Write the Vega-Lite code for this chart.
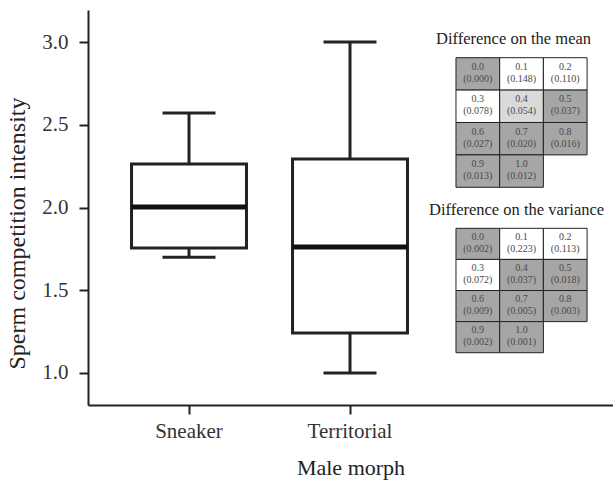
{
  "$schema": "https://vega.github.io/schema/vega-lite/v6.json",
  "width": 525,
  "height": 395,
  "autosize": {"type": "none"},
  "padding": {"left": 88, "top": 10, "right": 0, "bottom": 76},
  "background": "white",
  "config": {
    "view": {"stroke": null},
    "font": "Liberation Serif",
    "axis": {
      "grid": false,
      "domainColor": "#222222",
      "domainWidth": 2,
      "tickColor": "#222222",
      "tickWidth": 2,
      "tickSize": 9,
      "labelFont": "Liberation Serif",
      "labelFontSize": 21,
      "labelColor": "#333333",
      "titleFont": "Liberation Serif",
      "titleFontSize": 22,
      "titleFontWeight": "normal",
      "titleColor": "#222222"
    }
  },
  "datasets": {
    "boxes": [
      {"morph": "Sneaker", "lower": 1.70, "q1": 1.755, "median": 2.003, "q3": 2.263, "upper": 2.571},
      {"morph": "Territorial", "lower": 1.0, "q1": 1.242, "median": 1.761, "q3": 2.293, "upper": 3.0}
    ],
    "cells": [
      {"table": "mean", "row": 0, "col": 0, "v": "0.0", "p": "(0.000)", "level": "sig"},
      {"table": "mean", "row": 0, "col": 1, "v": "0.1", "p": "(0.148)", "level": "ns"},
      {"table": "mean", "row": 0, "col": 2, "v": "0.2", "p": "(0.110)", "level": "ns"},
      {"table": "mean", "row": 1, "col": 0, "v": "0.3", "p": "(0.078)", "level": "ns"},
      {"table": "mean", "row": 1, "col": 1, "v": "0.4", "p": "(0.054)", "level": "marg"},
      {"table": "mean", "row": 1, "col": 2, "v": "0.5", "p": "(0.037)", "level": "sig"},
      {"table": "mean", "row": 2, "col": 0, "v": "0.6", "p": "(0.027)", "level": "sig"},
      {"table": "mean", "row": 2, "col": 1, "v": "0.7", "p": "(0.020)", "level": "sig"},
      {"table": "mean", "row": 2, "col": 2, "v": "0.8", "p": "(0.016)", "level": "sig"},
      {"table": "mean", "row": 3, "col": 0, "v": "0.9", "p": "(0.013)", "level": "sig"},
      {"table": "mean", "row": 3, "col": 1, "v": "1.0", "p": "(0.012)", "level": "sig"},
      {"table": "variance", "row": 0, "col": 0, "v": "0.0", "p": "(0.002)", "level": "sig"},
      {"table": "variance", "row": 0, "col": 1, "v": "0.1", "p": "(0.223)", "level": "ns"},
      {"table": "variance", "row": 0, "col": 2, "v": "0.2", "p": "(0.113)", "level": "ns"},
      {"table": "variance", "row": 1, "col": 0, "v": "0.3", "p": "(0.072)", "level": "ns"},
      {"table": "variance", "row": 1, "col": 1, "v": "0.4", "p": "(0.037)", "level": "sig"},
      {"table": "variance", "row": 1, "col": 2, "v": "0.5", "p": "(0.018)", "level": "sig"},
      {"table": "variance", "row": 2, "col": 0, "v": "0.6", "p": "(0.009)", "level": "sig"},
      {"table": "variance", "row": 2, "col": 1, "v": "0.7", "p": "(0.005)", "level": "sig"},
      {"table": "variance", "row": 2, "col": 2, "v": "0.8", "p": "(0.003)", "level": "sig"},
      {"table": "variance", "row": 3, "col": 0, "v": "0.9", "p": "(0.002)", "level": "sig"},
      {"table": "variance", "row": 3, "col": 1, "v": "1.0", "p": "(0.001)", "level": "sig"}
    ],
    "titles": [
      {"table": "mean", "row": -1, "col": 1, "label": "Difference on the mean"},
      {"table": "variance", "row": -1, "col": 1, "label": "Difference on the variance"}
    ]
  },
  "layer": [
    {
      "data": {"name": "boxes"},
      "encoding": {
        "x": {
          "field": "morph",
          "type": "nominal",
          "scale": {"type": "band", "domain": ["Sneaker", "Territorial"], "paddingInner": 0, "paddingOuter": 0.6304, "align": 0.101},
          "axis": {"title": "Male morph", "labelAngle": 0, "labelPadding": 6, "titlePadding": 16}
        }
      },
      "layer": [
        {
          "mark": {"type": "rule", "color": "#222222", "strokeWidth": 3},
          "encoding": {
            "y": {
              "field": "lower",
              "type": "quantitative",
              "scale": {"domain": [0.8066, 3.1934], "nice": false, "zero": false},
              "axis": {"title": "Sperm competition intensity", "titleFontSize": 24, "titleY": 223, "values": [1, 1.5, 2, 2.5, 3], "format": ".1f", "labelPadding": 11, "titlePadding": 12}
            },
            "y2": {"field": "q1"}
          }
        },
        {
          "mark": {"type": "rule", "color": "#222222", "strokeWidth": 3},
          "encoding": {
            "y": {"field": "q3", "type": "quantitative"},
            "y2": {"field": "upper"}
          }
        },
        {
          "mark": {"type": "bar", "fill": "white", "stroke": "#222222", "strokeWidth": 3, "width": {"band": 0.714}},
          "encoding": {
            "y": {"field": "q1", "type": "quantitative"},
            "y2": {"field": "q3"}
          }
        },
        {
          "mark": {"type": "tick", "orient": "horizontal", "color": "#111111", "size": 115, "thickness": 5, "opacity": 1},
          "encoding": {"y": {"field": "median", "type": "quantitative"}}
        },
        {
          "mark": {"type": "tick", "orient": "horizontal", "color": "#222222", "size": 53, "thickness": 3, "opacity": 1},
          "encoding": {"y": {"field": "lower", "type": "quantitative"}}
        },
        {
          "mark": {"type": "tick", "orient": "horizontal", "color": "#222222", "size": 53, "thickness": 3, "opacity": 1},
          "encoding": {"y": {"field": "upper", "type": "quantitative"}}
        }
      ]
    },
    {
      "data": {"name": "cells"},
      "encoding": {
        "x": {
          "field": "col",
          "type": "ordinal",
          "scale": {"type": "band", "domain": [-8, -7, -6, -5, -4, -3, -2, -1, 0, 1, 2], "paddingInner": 0, "paddingOuter": 0.507, "align": 0.415},
          "axis": null
        }
      },
      "layer": [
        {
          "transform": [{"filter": "datum.table === 'mean'"}],
          "encoding": {
            "y": {
              "field": "row",
              "type": "ordinal",
              "scale": {"type": "band", "domain": [-1, 0, 1, 2, 3, 4, 5, 6, 7, 8, 9], "paddingInner": 0, "paddingOuter": 0.596, "align": 0.396},
              "axis": null
            }
          },
          "layer": [
            {
              "mark": {"type": "rect", "stroke": "#222222", "strokeWidth": 1},
              "encoding": {
                "fill": {"field": "level", "type": "nominal", "scale": {"domain": ["sig", "marg", "ns"], "range": ["#a6a6a6", "#dadada", "#ffffff"]}, "legend": null}
              }
            },
            {
              "mark": {"type": "text", "fontSize": 10, "color": "#4a4a4a", "baseline": "middle", "dy": -7},
              "encoding": {"text": {"field": "v"}}
            },
            {
              "mark": {"type": "text", "fontSize": 10, "color": "#4a4a4a", "baseline": "middle", "dy": 5},
              "encoding": {"text": {"field": "p"}}
            },
            {
              "data": {"name": "titles"},
              "transform": [{"filter": "datum.table === 'mean'"}],
              "mark": {"type": "text", "fontSize": 16.5, "color": "#222222", "baseline": "middle", "dy": -2, "dx": -8},
              "encoding": {"text": {"field": "label"}}
            }
          ]
        },
        {
          "transform": [{"filter": "datum.table === 'variance'"}],
          "encoding": {
            "y": {
              "field": "row",
              "type": "ordinal",
              "scale": {"type": "band", "domain": [-7, -6, -5, -4, -3, -2, -1, 0, 1, 2, 3, 4], "paddingInner": 0, "paddingOuter": 0.35, "align": 0.0275},
              "axis": null
            }
          },
          "layer": [
            {
              "mark": {"type": "rect", "stroke": "#222222", "strokeWidth": 1},
              "encoding": {
                "fill": {"field": "level", "type": "nominal", "scale": {"domain": ["sig", "marg", "ns"], "range": ["#a6a6a6", "#dadada", "#ffffff"]}, "legend": null}
              }
            },
            {
              "mark": {"type": "text", "fontSize": 10, "color": "#4a4a4a", "baseline": "middle", "dy": -7},
              "encoding": {"text": {"field": "v"}}
            },
            {
              "mark": {"type": "text", "fontSize": 10, "color": "#4a4a4a", "baseline": "middle", "dy": 5},
              "encoding": {"text": {"field": "p"}}
            },
            {
              "data": {"name": "titles"},
              "transform": [{"filter": "datum.table === 'variance'"}],
              "mark": {"type": "text", "fontSize": 16.5, "color": "#222222", "baseline": "middle", "dy": -3, "dx": -5},
              "encoding": {"text": {"field": "label"}}
            }
          ]
        }
      ],
      "resolve": {"scale": {"y": "independent"}}
    }
  ],
  "resolve": {"scale": {"x": "independent", "y": "independent"}}
}
